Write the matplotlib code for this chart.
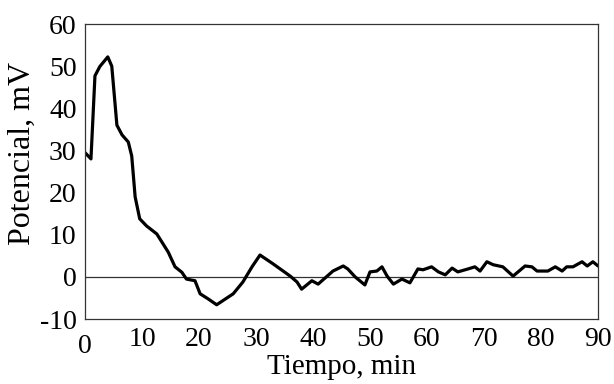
import numpy as np
import matplotlib
matplotlib.use("Agg")
import matplotlib.pyplot as plt

plt.rcParams['font.family'] = ['Liberation Serif', 'DejaVu Serif']

# tiempo (min) y potencial (mV)
tiempo = [0, 1.05, 1.75, 2.6, 4.0, 4.7, 5.6, 6.5, 7.6, 8.2, 8.8, 9.6, 10.8, 12.6,
          14.6, 15.8, 17.0, 17.8, 19.3, 20.2, 21.6, 23.1, 26.0, 27.7, 29.3, 30.7,
          33.0, 36.0, 37.2, 38.0, 39.8, 40.9, 43.5, 45.3, 46.1, 47.4, 49.1, 50.0,
          51.2, 52.1, 53.0, 54.1, 55.6, 57.0, 58.4, 59.3, 60.8, 62.0, 63.2, 64.4,
          65.4, 67.2, 68.4, 69.3, 70.5, 71.6, 73.3, 75.1, 77.2, 78.4, 79.3, 81.2,
          82.5, 83.7, 84.5, 85.6, 87.2, 88.1, 89.1, 90.0]
potencial = [29.5, 28.0, 47.7, 49.9, 52.2, 50.0, 36.0, 33.7, 32.0, 28.7, 19.0, 13.8, 12.1, 10.2,
             5.9, 2.4, 1.1, -0.5, -0.9, -4.0, -5.2, -6.6, -4.0, -1.2, 2.4, 5.2,
             3.1, 0.2, -1.2, -2.9, -0.9, -1.7, 1.4, 2.6, 1.9, 0.0, -1.9, 1.2,
             1.4, 2.4, 0.2, -1.7, -0.5, -1.4, 1.9, 1.7, 2.4, 1.2, 0.5, 2.1,
             1.2, 1.9, 2.4, 1.4, 3.6, 2.9, 2.4, 0.2, 2.6, 2.4, 1.4, 1.4,
             2.4, 1.4, 2.4, 2.4, 3.6, 2.6, 3.6, 2.6]

xticks = [0, 10, 20, 30, 40, 50, 60, 70, 80, 90]
yticks = [-10, 0, 10, 20, 30, 40, 50, 60]
ytick_labels = ['-10', '0', '10', '20', '30', '40', '50', '60']

fig = plt.figure(figsize=(6.14, 3.84), dpi=100)
ax = fig.add_axes([0.1384, 0.169, 0.8356, 0.7685])

ax.axhline(0, color='#333333', lw=0.9)
ax.plot(tiempo, potencial, color='black', lw=2.3,
        solid_joinstyle='round', solid_capstyle='round')

ax.set_xlim(0, 90)
ax.set_ylim(-10, 60)
ax.set_xticks(xticks)
ax.set_yticks(yticks, ytick_labels)
ax.tick_params(length=0, labelsize=20)
ax.tick_params(axis='x', pad=6)
ax.tick_params(axis='y', pad=6)
ax.xaxis.get_major_ticks()[0].set_pad(11)
for s in ax.spines.values():
    s.set_linewidth(0.9)
    s.set_color('#333333')

ax.set_xlabel('Tiempo, min', fontsize=21, labelpad=-4)
ax.set_ylabel('Potencial, mV', fontsize=23)
ax.yaxis.set_label_coords(-0.094, 0.56)

fig.savefig('out.png', dpi=100)
